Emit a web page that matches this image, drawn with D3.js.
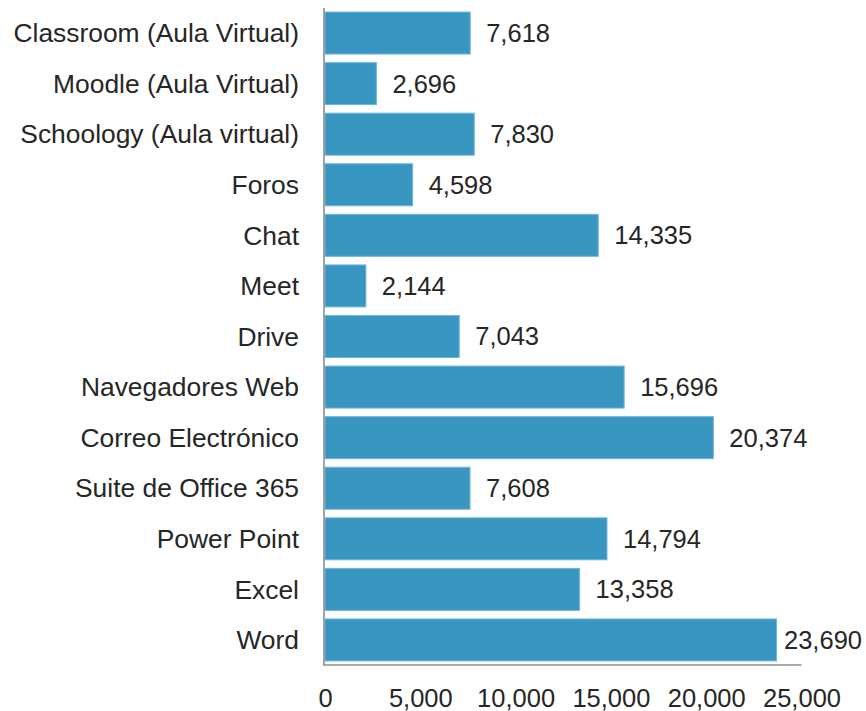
<!DOCTYPE html>
<html>
<head>
<meta charset="utf-8">
<script src="https://cdn.jsdelivr.net/npm/d3@7"></script>
<style>
  body { margin: 0; background: #fff; }
  text { font-family: "Liberation Sans", Arial, sans-serif; fill: #262626; }
</style>
</head>
<body>
<div id="chart"></div>
<script>
const categories = [
    "Classroom (Aula Virtual)", "Moodle (Aula Virtual)", "Schoology (Aula virtual)",
    "Foros", "Chat", "Meet", "Drive", "Navegadores Web", "Correo Electrónico",
    "Suite de Office 365", "Power Point", "Excel", "Word"
];
const values = [7618, 2696, 7830, 4598, 14335, 2144, 7043, 15696, 20374, 7608, 14794, 13358, 23690];
const xTicks = [0, 5000, 10000, 15000, 20000, 25000];

const width = 866, height = 711;
const fontSize = 25.5;
const catFontSize = 26.4;
const axisColor = "#8c8c8c";

const svg = d3.select("#chart").append("svg")
    .attr("width", width)
    .attr("height", height);

const xScale = d3.scaleLinear().domain([0, 25000]).range([325, 801.5]);
const yScale = d3.scaleBand().domain(categories).range([8, 665])
    .paddingInner(0.17).paddingOuter(0.08);

const fmt = d3.format(",");

// bars
svg.append("g").selectAll("rect")
    .data(categories)
    .join("rect")
    .attr("x", xScale(0))
    .attr("y", d => yScale(d))
    .attr("width", (d, i) => xScale(values[i]) - xScale(0))
    .attr("height", yScale.bandwidth())
    .attr("fill", "#3996c1")
    .attr("stroke", "#6cb6dc")
    .attr("stroke-width", 1);

// category labels
svg.append("g").selectAll("text")
    .data(categories)
    .join("text")
    .attr("x", 299)
    .attr("y", d => yScale(d) + yScale.bandwidth() / 2)
    .attr("dy", "0.35em")
    .attr("text-anchor", "end")
    .style("font-size", catFontSize + "px")
    .text(d => d);

// value labels, pushed back inside the window if they overflow
svg.append("g").selectAll("text")
    .data(categories)
    .join("text")
    .attr("y", d => yScale(d) + yScale.bandwidth() / 2)
    .attr("dy", "0.35em")
    .style("font-size", fontSize + "px")
    .text((d, i) => fmt(values[i]))
    .attr("x", function (d, i) {
        const w = this.getComputedTextLength();
        return Math.min(xScale(values[i]) + 16, width - 4 - w);
    });

// y axis line
svg.append("line")
    .attr("x1", 324).attr("x2", 324)
    .attr("y1", 8).attr("y2", 665)
    .attr("stroke", axisColor)
    .attr("stroke-width", 1.6);

// x axis
const xAxis = svg.append("g")
    .attr("transform", "translate(0,665)")
    .call(d3.axisBottom(xScale).tickValues(xTicks).tickFormat(fmt).tickSize(0).tickPadding(24));
xAxis.select(".domain")
    .attr("d", `M323,0H${xScale(25000)}`)
    .attr("stroke", axisColor)
    .attr("stroke-width", 1.6);
xAxis.selectAll(".tick text")
    .style("font-size", fontSize + "px")
    .attr("fill", "#262626");
xAxis.attr("font-size", null).attr("font-family", null);
</script>
</body>
</html>
